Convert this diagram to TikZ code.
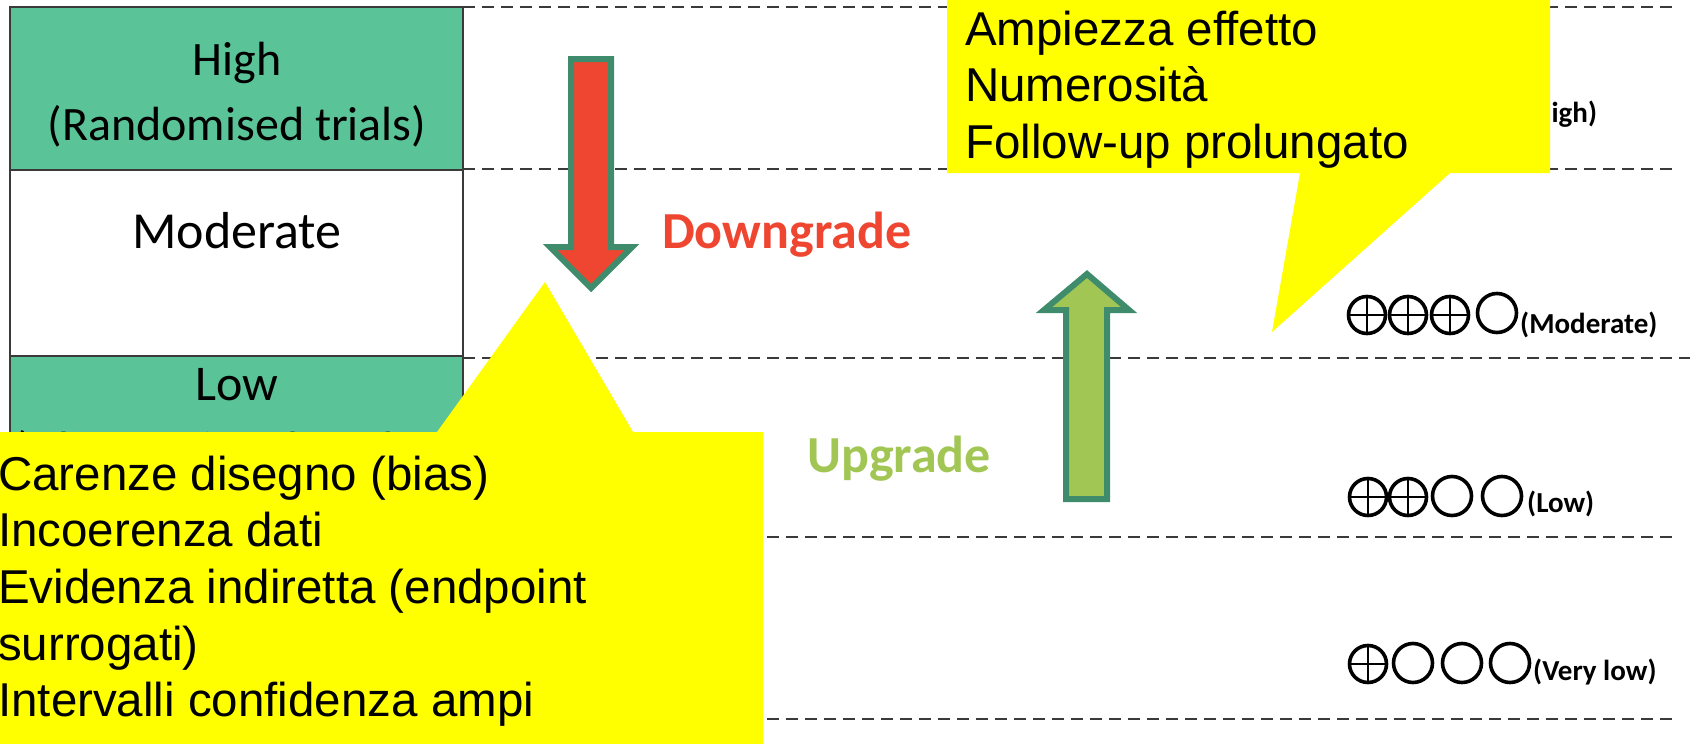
\documentclass[tikz,border=0pt]{standalone}
\usepackage{fontspec}
\setmainfont{Liberation Sans}
\newfontfamily\calibri{Carlito}
\usepackage{tikz}
\usetikzlibrary{positioning}
\definecolor{gradeGreen}{HTML}{5AC398}
\definecolor{gradeRed}{HTML}{EE4630}
\definecolor{gradeLime}{HTML}{A2C654}
\definecolor{gradeEdge}{HTML}{3F8C6C}
\definecolor{gradeLine}{HTML}{3A3A3A}
\definecolor{noteYellow}{HTML}{FFFF00}

% one quality symbol: crossed ring / empty ring
\newcommand{\plusring}[2]{%
  \draw[symring] (#1,#2) circle (18.5);
  \draw[symcross] (#1-18.5,#2) -- (#1+18.5,#2) (#1,#2-18.5) -- (#1,#2+18.5);}
\newcommand{\openring}[2]{\draw[symring] (#1,#2) circle (19.5);}

\begin{document}
\begin{tikzpicture}[x=1pt,y=-1pt,
    tabline/.style={draw=gradeLine,line width=2pt},
    rowdash/.style={draw=gradeLine,line width=2.2pt,dash pattern=on 12pt off 7pt},
    tabtext/.style={font=\calibri\fontsize{48pt}{58pt}\selectfont,anchor=base,inner sep=0pt},
    bigarrow/.style={draw=gradeEdge,line width=6pt,line join=miter},
    movetext/.style={font=\calibri\bfseries\fontsize{52pt}{60pt}\selectfont,anchor=base west,inner sep=0pt},
    symring/.style={draw=black,line width=3.6pt},
    symcross/.style={draw=black,line width=2.8pt},
    grlabel/.style={font=\calibri\bfseries\fontsize{29pt}{34pt}\selectfont,anchor=base west,inner sep=0pt},
    note/.style={fill=noteYellow,draw=none},
    notetext/.style={font=\fontsize{47.5pt}{57pt}\selectfont,anchor=base west,inner sep=0pt}]
  \useasboundingbox (0,0) rectangle (1690,744);

  % study design column
  \fill[gradeGreen] (10,7) rectangle (463,170);
  \fill[gradeGreen] (10,356) rectangle (463,760);
  \draw[tabline] (10,760) -- (10,7) -- (463,7) -- (463,760);
  \draw[tabline] (10,170) -- (463,170) (10,356) -- (463,356);
  \node[tabtext] (hihead) at (237,75) {High};
  \node[tabtext] (hisub) at (237,140) {(Randomised trials)};
  \node[tabtext,font=\calibri\fontsize{52pt}{60pt}\selectfont] (modhead) at (237,248) {Moderate};
  \node[tabtext,font=\calibri\fontsize{50pt}{60pt}\selectfont] (lowhead) at (237,400) {Low};
  \node[tabtext] (lowsub) at (237,465) {(Observational studies)};

  % grade levels
  \foreach \yy/\xe in {7/1677,169/1677,358/1700,537/1677,719/1675}
    \draw[rowdash] (463,\yy) -- (\xe,\yy);

  % arrows
  \draw[bigarrow,fill=gradeRed] (571,59) -- (611,59) -- (611,247) -- (632,247)
    -- (591,288) -- (550,247) -- (571,247) -- cycle;
  \node[movetext,text=gradeRed] (down) at (662,248) {Downgrade};
  \draw[bigarrow,fill=gradeLime] (1087,274) -- (1129,310) -- (1107,310) -- (1107,499)
    -- (1066,499) -- (1066,310) -- (1044,310) -- cycle;
  \node[movetext,text=gradeLime] (up) at (807,472) {Upgrade};

  % symbols
  \foreach \cx in {1368,1409,1450,1491} {\plusring{\cx}{102}}
  \node[grlabel] (lblhigh) at (1524,122) {(High)};
  \foreach \cx in {1367,1408,1450} {\plusring{\cx}{315}}
  \openring{1497}{313}
  \node[grlabel] (lblmod) at (1520,333) {(Moderate)};
  \foreach \cx in {1368,1408} {\plusring{\cx}{497}}
  \foreach \cx in {1452,1502} {\openring{\cx}{496}}
  \node[grlabel] (lbllow) at (1527,512) {(Low)};
  \plusring{1368}{664}
  \foreach \cx in {1413,1462,1510} {\openring{\cx}{663}}
  \node[grlabel] (lblvlow) at (1533,680) {(Very low)};

  % callouts
  \fill[note] (947,-10) -- (1550,-10) -- (1550,173) -- (1450,173) -- (1272,332)
    -- (1300,173) -- (947,173) -- cycle;
  \foreach \t [count=\i] in {Ampiezza effetto,Numerosità,Follow-up prolungato}
    \node[notetext] (upnote\i) at (965,45+56.5*\i-56.5) {\t};
  \fill[note] (-10,432) -- (437,432) -- (545,282) -- (633,432) -- (763,432)
    -- (763,760) -- (-10,760) -- cycle;
  \foreach \t [count=\i] in {Carenze disegno (bias),Incoerenza dati,
      Evidenza indiretta (endpoint,surrogati),Intervalli confidenza ampi}
    \node[notetext] (downnote\i) at (-2,490+56.7*\i-56.7) {\t};
\end{tikzpicture}
\end{document}
